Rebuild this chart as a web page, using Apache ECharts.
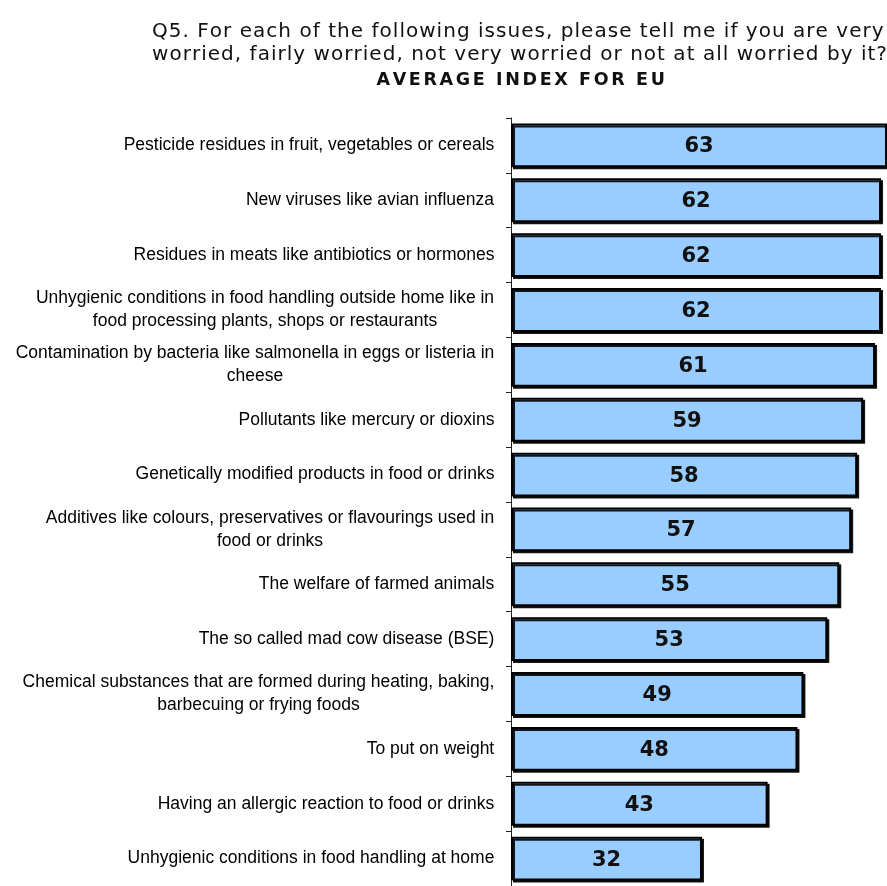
<!DOCTYPE html>
<html>
<head>
<meta charset="utf-8">
<script src="https://cdn.jsdelivr.net/npm/echarts@6/dist/echarts.min.js"></script>
<style>
html,body{margin:0;padding:0;background:#fff;overflow:hidden;}
#c{width:887px;height:886px;}
</style>
</head>
<body>
<div id="c"></div>
<script>
var titleLines = ["Q5. For each of the following issues, please tell me if you are very", "worried, fairly worried, not very worried or not at all worried by it?"];
var subtitle = "AVERAGE INDEX FOR EU";
var categories = [
  "Pesticide residues in fruit, vegetables or cereals",
  "New viruses like avian influenza",
  "Residues in meats like antibiotics or hormones",
  "Unhygienic conditions in food handling outside home like in\nfood processing plants, shops or restaurants",
  "Contamination by bacteria like salmonella in eggs or listeria in\ncheese",
  "Pollutants like mercury or dioxins",
  "Genetically modified products in food or drinks",
  "Additives like colours, preservatives or flavourings used in\nfood or drinks",
  "The welfare of farmed animals",
  "The so called mad cow disease (BSE)",
  "Chemical substances that are formed during heating, baking,\nbarbecuing or frying foods",
  "To put on weight",
  "Having an allergic reaction to food or drinks",
  "Unhygienic conditions in food handling at home"
];
var values = [63, 62, 62, 62, 61, 59, 58, 57, 55, 53, 49, 48, 43, 32];

var cv = document.createElement('canvas').getContext('2d');

// letter-spaced rich text helper
function spaced(lines, family, size, weight, targetWidth, lineHeight, prefix, rich) {
  var font = weight + ' ' + size + 'px ' + family;
  cv.font = font;
  var maxW = 0, maxN = 1;
  lines.forEach(function (l) {
    var w = 0;
    for (var k = 0; k < l.length; k++) w += cv.measureText(l[k]).width;
    if (w > maxW) { maxW = w; maxN = l.length; }
  });
  var sp = Math.max(0, (targetWidth - maxW) / maxN);
  var out = lines.map(function (l) {
    var s = '';
    for (var k = 0; k < l.length; k++) {
      var ch = l[k], name = prefix + ch.charCodeAt(0);
      if (!rich[name]) {
        rich[name] = {width: cv.measureText(ch).width + sp, align: 'left', fontFamily: family,
          fontSize: size, fontWeight: weight, color: '#111', lineHeight: lineHeight};
      }
      s += '{' + name + '|' + ch + '}';
    }
    return s;
  });
  return out.join('\n');
}

var titleRich = {}, subRich = {};
var titleText = spaced(titleLines, '"DejaVu Sans", Verdana, sans-serif', 20, 'normal', 736, 23, 't', titleRich);
var subText = spaced([subtitle], '"DejaVu Sans", Verdana, sans-serif', 17.5, 'bold', 291, 20, 's', subRich);

var labelFamily = '"Liberation Sans", Arial, sans-serif';
var labelSize = 17.5;
cv.font = labelSize + 'px ' + labelFamily;
var rich = {};
categories.forEach(function (c, i) {
  var w = 0;
  c.split('\n').forEach(function (l) { w = Math.max(w, cv.measureText(l).width); });
  rich['l' + i] = {
    width: Math.ceil(w) + 1, align: 'center', fontSize: labelSize, lineHeight: 23,
    fontFamily: labelFamily, color: '#000'
  };
});

var chart = echarts.init(document.getElementById('c'), null, {renderer: 'canvas'});
chart.setOption({
  animation: false,
  backgroundColor: '#fff',
  title: [{
    text: titleText,
    left: 515, top: 15, textAlign: 'center',
    textStyle: {rich: titleRich}
  }, {
    text: subText,
    left: 517, top: 65, textAlign: 'center',
    textStyle: {rich: subRich}
  }],
  grid: {left: 511, top: 118, width: 382, height: 773, containLabel: false},
  xAxis: {type: 'value', min: 0, max: 63, show: false},
  yAxis: {
    type: 'category', inverse: true, data: categories,
    axisLine: {show: true, lineStyle: {color: '#222', width: 1}},
    axisTick: {show: true, length: 5, lineStyle: {color: '#222'}},
    axisLabel: {
      margin: 16, align: 'right',
      formatter: function (v, i) {
        return v.split('\n').map(function (l) { return '{l' + i + '|' + l + '}'; }).join('\n');
      },
      rich: rich
    }
  },
  series: [{
    type: 'bar', data: values, barCategoryGap: '20%',
    itemStyle: {color: '#99CCFF', borderColor: '#000', borderWidth: 2,
      shadowColor: 'rgba(0,0,0,0.9)', shadowOffsetX: 2, shadowOffsetY: 2, shadowBlur: 0},
    label: {show: true, position: 'inside', offset: [0, 1.5], fontFamily: '"DejaVu Sans", Verdana, sans-serif',
      fontWeight: 'bold', fontSize: 21, color: '#111'}
  }]
});
</script>
</body>
</html>
